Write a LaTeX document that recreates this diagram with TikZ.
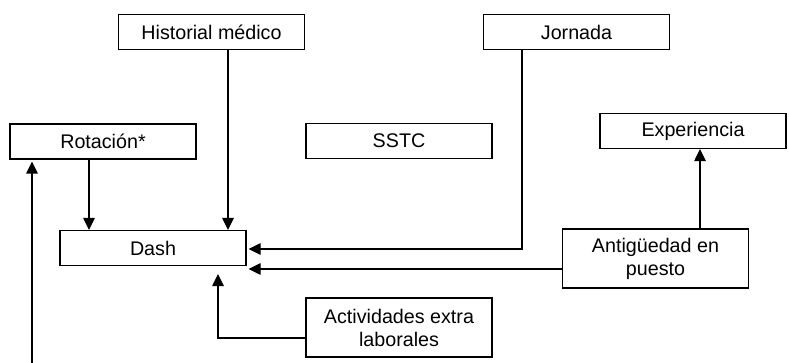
\documentclass[tikz,border=0pt]{standalone}
\usepackage{fontspec}
\setmainfont{Liberation Sans}
\usetikzlibrary{arrows.meta,calc}
\begin{document}
\begin{tikzpicture}[x=1pt,y=-1pt,
  box/.style={draw,line width=1.1pt,minimum width=186pt,minimum height=35pt,inner sep=0pt,align=center,font=\fontsize{19.7}{23}\selectfont},
  tall/.style={box,minimum height=59pt},
  arr/.style={line width=1.1pt,-{Triangle[length=12pt,width=11.5pt]}}]
\useasboundingbox (0,0) rectangle (789,363);
\node[box] (hist) at (211.5,32) {Historial médico};
\node[box] (jorn) at (576.5,32) {Jornada};
\node[box] (rot) at (103,141.5) {Rotación*};
\node[box] (sstc) at (399,141) {SSTC};
\node[box] (exper) at (693,131) {Experiencia};
\node[box] (dash) at (153,248) {Dash};
\node[tall] (ant) at (655.5,258.5) {Antigüedad en\\puesto};
\node[tall] (act) at (399,327.5) {Actividades extra\\laborales};
\coordinate (bot) at (32,363);
\draw[arr] (rot.south -| 89,0) -- (dash.north -| 89,0);
\draw[arr] (hist.south -| 228,0) -- (dash.north -| 228,0);
\draw[arr] (jorn.south -| 522,0) |- ($(dash.east)+(2,1)$);
\draw[arr] (ant.west |- 0,269) -- ($(dash.east)+(2,21)$);
\draw[arr] (act.west |- 0,338) -| ($(dash.south)+(65,8)$);
\draw[arr] (ant.north -| 700,0) -- (exper.south -| 700,0);
\draw[arr] (bot) -- ($(rot.south -| bot)+(0,2)$);
\end{tikzpicture}
\end{document}
